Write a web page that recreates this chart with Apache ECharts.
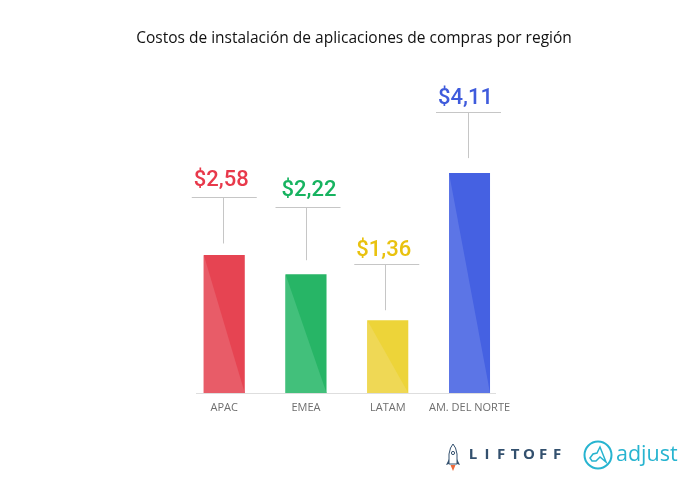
<!DOCTYPE html>
<html><head><meta charset="utf-8">
<style>html,body{margin:0;padding:0;background:#fff}#c{width:700px;height:480px}</style>
<script src="https://cdn.jsdelivr.net/npm/echarts@6/dist/echarts.min.js"></script>
</head><body><div id="c"></div>
<script>
const titleText = 'Costos de instalación de aplicaciones de compras por región';
const categories = ['APAC', 'EMEA', 'LATAM', 'AM. DEL NORTE'];
const costs = [2.58, 2.22, 1.36, 4.11];
const barColors = ['#e64452', '#27b566', '#edd439', '#4561e2'];
const lightColors = ['#e85c68', '#42c07b', '#efd855', '#5c75e6'];
const labelColors = ['#e8394b', '#17b360', '#e9c20f', '#3f5bdc'];
// leader-line layout, relative to each bar's top and centre
const labelShift = [-3, 3, -4, -4];
const ruleShift = [0, 2, -1, -1];
const stemShift = [-1, 0, -3, -2];
const ruleGap = [57.5, 67.7, 56.7, 61.6];
const stemGap = [11.5, 14, 10, 15];
const textRise = [17.5, 17.5, 14, 14];
const BAR_W = 41;

const fmt = v => '$' + v.toFixed(2).replace('.', ',');
const chart = echarts.init(document.getElementById('c'), null, {renderer: 'canvas'});

function overlay(params, api) {
  const i = api.value(0), v = api.value(1);
  const top = api.coord([i, v]), base = api.coord([i, 0]);
  const x = top[0], y = top[1], l = x - BAR_W / 2, r = x + BAR_W / 2;
  const ruleY = Math.round(y - ruleGap[i]) + 0.5, stemX = Math.round(x + stemShift[i]) + 0.5, rc = x + ruleShift[i];
  const lineStyle = {stroke: '#c6c6c6', lineWidth: 1};
  return {type: 'group', children: [
    {type: 'polygon', shape: {points: [[l, y], [r, base[1]], [l, base[1]]]}, style: {fill: lightColors[i]}},
    {type: 'line', shape: {x1: rc - 32.5, y1: ruleY, x2: rc + 32.5, y2: ruleY}, style: lineStyle},
    {type: 'line', shape: {x1: stemX, y1: ruleY, x2: stemX, y2: y - stemGap[i]}, style: lineStyle},
    {type: 'text', x: x + labelShift[i], y: ruleY - textRise[i], style: {
      text: fmt(v), fill: labelColors[i], font: '500 22px Roboto', align: 'center', verticalAlign: 'middle'}}
  ]};
}

const rocket = {type: 'group', x: 446, y: 444, children: [
  {type: 'polygon', shape: {points: [[7, 0], [9.5, 4], [11, 10], [11, 20], [3, 20], [3, 10], [4.5, 4]]}, style: {fill: '#fff', stroke: '#33506e', lineWidth: 1}},
  {type: 'circle', shape: {cx: 7, cy: 9, r: 1.6}, style: {fill: '#fff', stroke: '#33506e', lineWidth: 1}},
  {type: 'polygon', shape: {points: [[3, 15], [0, 21], [3, 20]]}, style: {fill: '#33506e'}},
  {type: 'polygon', shape: {points: [[11, 15], [14, 21], [11, 20]]}, style: {fill: '#33506e'}},
  {type: 'polygon', shape: {points: [[4.5, 21], [9.5, 21], [7, 27]]}, style: {fill: '#ee6a3a'}}
]};
const adjustMark = {type: 'group', x: 598, y: 455, children: [
  {type: 'circle', shape: {cx: 0, cy: 0, r: 13.5}, style: {fill: 'none', stroke: '#27b4d0', lineWidth: 2}},
  {type: 'polygon', shape: {points: [[-8, 3], [-5, -1], [-1, -2], [2, -8], [8, 7], [2, 2], [-2, 6], [-6, 6]]}, style: {fill: 'none', stroke: '#27b4d0', lineWidth: 1.5}}
]};
const liftoffLetters = 'LIFTOFF'.split('').map((ch, k) => ({
  type: 'text', x: 473 + k * 14, y: 455,
  style: {text: ch, fill: '#33506e', font: '700 15px "Open Sans"', align: 'center', verticalAlign: 'middle'}
}));

chart.setOption({
  animation: false,
  backgroundColor: '#fff',
  title: {text: titleText, left: 349, top: 26, textAlign: 'center',
    textStyle: {fontFamily: 'Open Sans', fontSize: 15.5, fontWeight: 'normal', color: '#111'}},
  grid: {left: 183.4, width: 327, top: 125.5, height: 267.5},
  xAxis: {type: 'category', data: categories,
    axisLine: {show: false}, axisTick: {show: false},
    axisLabel: {color: '#6e6e6e', fontFamily: 'Open Sans', fontSize: 11, margin: 9, interval: 0}},
  yAxis: {type: 'value', min: 0, max: 5, show: false},
  series: [
    {type: 'bar', data: costs.map((v, i) => ({value: v, itemStyle: {color: barColors[i]}})), barWidth: BAR_W},
    {type: 'custom', renderItem: overlay, data: costs.map((v, i) => [i, v]), encode: {x: 0, y: 1}, z: 5, silent: true}
  ],
  graphic: [
    {type: 'line', shape: {x1: 196, y1: 393.5, x2: 496, y2: 393.5}, style: {stroke: '#dedede', lineWidth: 1}},
    rocket,
    ...liftoffLetters,
    adjustMark,
    {type: 'text', x: 616, y: 455, style: {text: 'adjust', fill: '#27b4d0', font: '21.5px "Open Sans"', verticalAlign: 'middle'}}
  ]
});
</script></body></html>
